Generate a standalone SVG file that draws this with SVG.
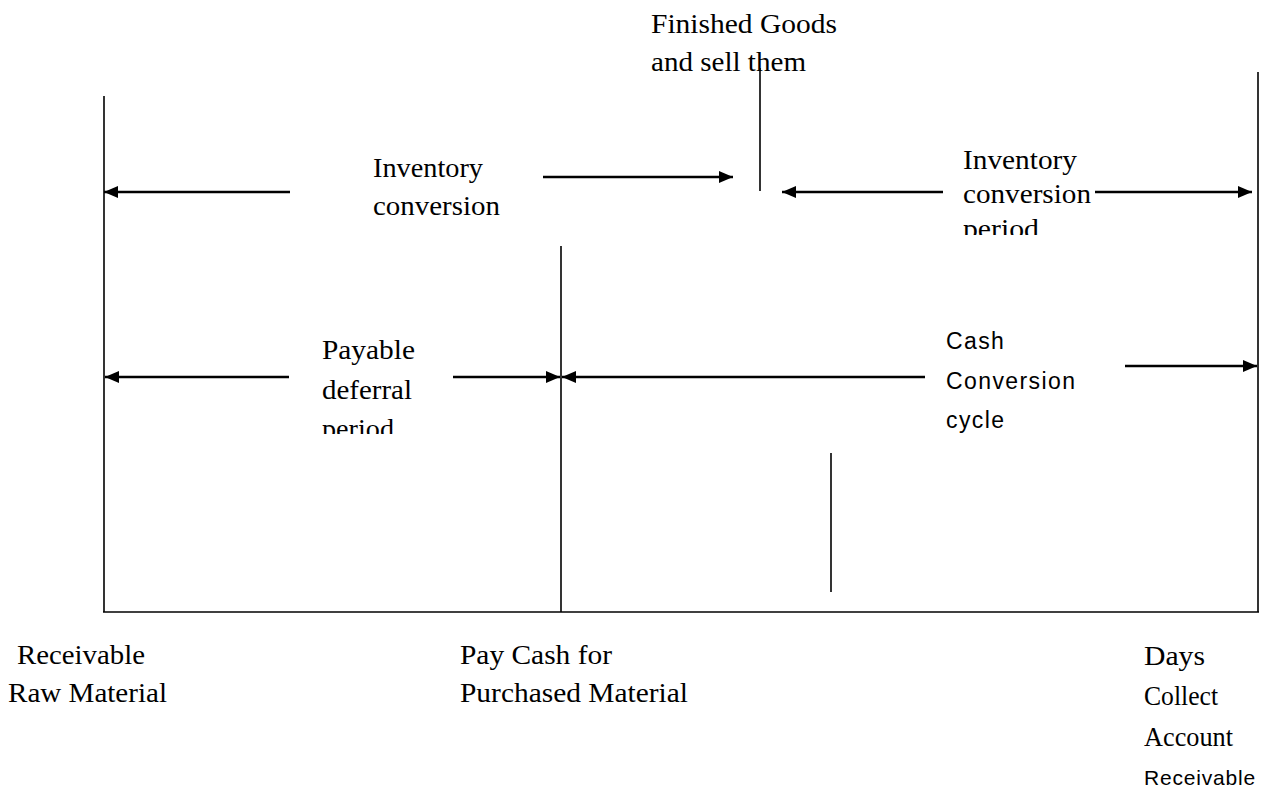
<svg xmlns="http://www.w3.org/2000/svg" width="1286" height="796" viewBox="0 0 1286 796">
<style>
.t{font-family:"Liberation Serif","Times New Roman",serif;font-size:27px;fill:#000}
.s{font-family:"Liberation Sans",Arial,sans-serif;font-size:23px;letter-spacing:1.4px;fill:#000}
.s2{font-family:"Liberation Sans",Arial,sans-serif;font-size:21px;letter-spacing:0.8px;fill:#000}
.v{stroke:#000;stroke-width:1.6;fill:none}
.a{stroke:#000;stroke-width:2.6;fill:none}
</style>
<defs>
<marker id="ah" viewBox="0 0 14 12" markerWidth="14" markerHeight="12" refX="14" refY="6" orient="auto" markerUnits="userSpaceOnUse">
<path d="M0,0 L14,6 L0,12 z" fill="#000"/>
</marker>
<clipPath id="c1"><rect x="900" y="140" width="250" height="95"/></clipPath>
<clipPath id="c2"><rect x="300" y="320" width="150" height="114"/></clipPath>
</defs>
<rect width="1286" height="796" fill="#fff"/>
<g id="frame">
<line class="v" x1="104" y1="96" x2="104" y2="612"/>
<line class="v" x1="1258" y1="72" x2="1258" y2="612"/>
<line class="v" x1="103" y1="612" x2="1259" y2="612"/>
<line class="v" x1="561" y1="246" x2="561" y2="612"/>
<line class="v" x1="760" y1="68" x2="760" y2="191"/>
<line class="v" x1="831" y1="453" x2="831" y2="592"/>
</g>
<g id="connectors">
<line class="a" x1="290" y1="192" x2="104" y2="192" marker-end="url(#ah)"/>
<line class="a" x1="543" y1="177" x2="733" y2="177" marker-end="url(#ah)"/>
<line class="a" x1="943" y1="192" x2="782" y2="192" marker-end="url(#ah)"/>
<line class="a" x1="1095" y1="192" x2="1252" y2="192" marker-end="url(#ah)"/>
<line class="a" x1="289" y1="377" x2="105" y2="377" marker-end="url(#ah)"/>
<line class="a" x1="453" y1="377" x2="560" y2="377" marker-end="url(#ah)"/>
<line class="a" x1="925" y1="377" x2="562" y2="377" marker-end="url(#ah)"/>
<line class="a" x1="1125" y1="366" x2="1257" y2="366" marker-end="url(#ah)"/>
</g>
<g id="finished-goods">
<text class="t" x="651" y="33" textLength="186" lengthAdjust="spacingAndGlyphs">Finished Goods</text>
<text class="t" x="651" y="71" textLength="155" lengthAdjust="spacingAndGlyphs">and sell them</text>
</g>
<g id="inventory-conversion-left">
<text class="t" x="373" y="177" textLength="110" lengthAdjust="spacingAndGlyphs">Inventory</text>
<text class="t" x="373" y="215" textLength="127" lengthAdjust="spacingAndGlyphs">conversion</text>
</g>
<g id="inventory-conversion-right" clip-path="url(#c1)">
<text class="t" x="963" y="169" textLength="114" lengthAdjust="spacingAndGlyphs">Inventory</text>
<text class="t" x="963" y="203" textLength="128" lengthAdjust="spacingAndGlyphs">conversion</text>
<text class="t" x="963" y="238" textLength="76" lengthAdjust="spacingAndGlyphs">period</text>
</g>
<g id="payable-deferral" clip-path="url(#c2)">
<text class="t" x="322" y="359" textLength="93" lengthAdjust="spacingAndGlyphs">Payable</text>
<text class="t" x="322" y="399" textLength="90" lengthAdjust="spacingAndGlyphs">deferral</text>
<text class="t" x="322" y="438" textLength="72" lengthAdjust="spacingAndGlyphs">period</text>
</g>
<g id="cash-conversion-cycle">
<text class="s" x="946" y="349">Cash</text>
<text class="s" x="946" y="389">Conversion</text>
<text class="s" x="946" y="428">cycle</text>
</g>
<g id="receivable-raw-material">
<text class="t" x="17" y="664" textLength="128" lengthAdjust="spacingAndGlyphs">Receivable</text>
<text class="t" x="8" y="702" textLength="159" lengthAdjust="spacingAndGlyphs">Raw Material</text>
</g>
<g id="pay-cash">
<text class="t" x="460" y="664" textLength="152" lengthAdjust="spacingAndGlyphs">Pay Cash for</text>
<text class="t" x="460" y="702" textLength="228" lengthAdjust="spacingAndGlyphs">Purchased Material</text>
</g>
<g id="days-collect">
<text class="t" x="1144" y="665" textLength="61" lengthAdjust="spacingAndGlyphs">Days</text>
<text class="t" x="1144" y="705" textLength="74" lengthAdjust="spacingAndGlyphs">Collect</text>
<text class="t" x="1144" y="746" textLength="89" lengthAdjust="spacingAndGlyphs">Account</text>
<text class="s2" x="1144" y="785">Receivable</text>
</g>
</svg>
